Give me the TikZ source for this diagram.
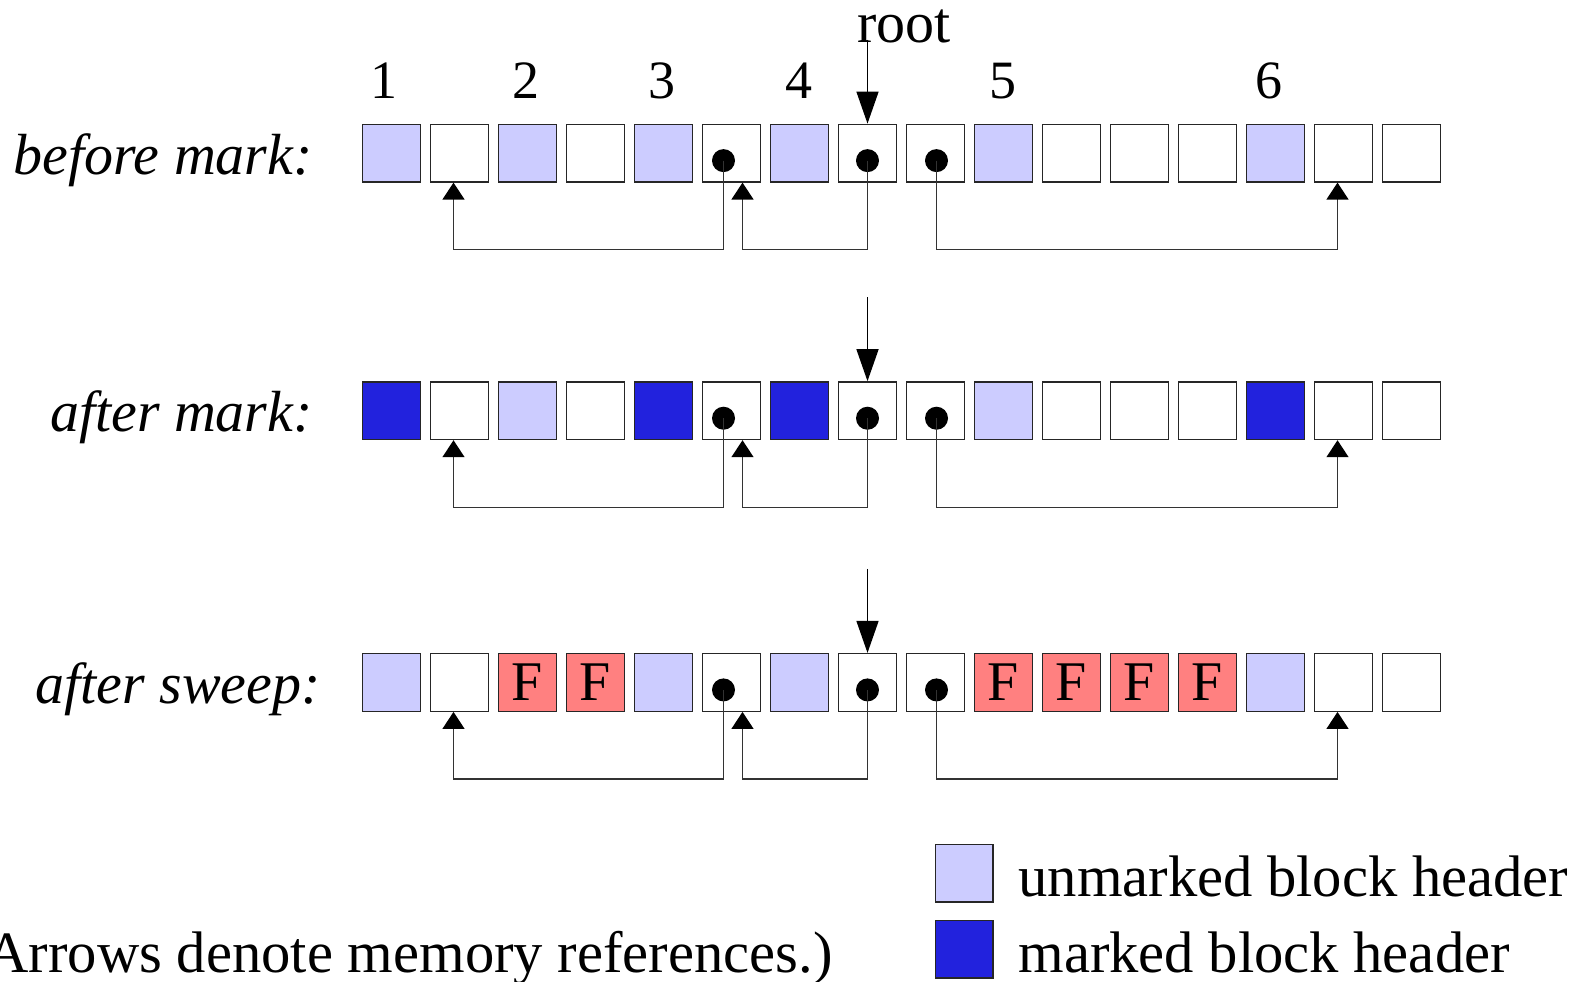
\documentclass[tikz,border=0pt]{standalone}
\usepackage{fontspec}
\setmainfont{Liberation Serif}
\usetikzlibrary{arrows.meta,calc}
\definecolor{unmarked}{HTML}{CCCCFF}
\definecolor{marked}{HTML}{2222DD}
\definecolor{freed}{HTML}{FF8080}
\begin{document}
\begin{tikzpicture}[x=0.5pt,y=-0.5pt,
  cell/.style={draw=black!85,line width=0.7pt,rectangle,inner sep=0pt,
    minimum size=28.8pt,font=\fontsize{28}{30}\selectfont},
  hdr/.style={cell,fill=unmarked},
  mhdr/.style={cell,fill=marked},
  fcell/.style={cell,fill=freed},
  ptr/.style={circle,fill=black,inner sep=0pt,minimum size=11.5pt},
  ref/.style={draw=black!80,line width=0.65pt,-{Triangle[width=11pt,length=8.5pt,color=black]}},
  rootref/.style={draw=black,line width=0.7pt,-{Triangle[width=11pt,length=16pt]}},
  rowlabel/.style={anchor=base east,inner sep=0pt,font=\fontsize{29}{33}\selectfont\itshape},
  number/.style={anchor=base,inner sep=0pt,font=\fontsize{27}{30}\selectfont},
  keytext/.style={anchor=base west,inner sep=0pt,font=\fontsize{29.3}{34}\selectfont},
]
\useasboundingbox (0,0) rectangle (1584,981);

% memory words, one row per phase
\foreach \s/\t [count=\i] in {hdr/,cell/,hdr/,cell/,hdr/,cell/,hdr/,cell/,cell/,hdr/,cell/,cell/,cell/,hdr/,cell/,cell/}
  \node[\s] (b1-\i) at ({391.5+68*(\i-1)},153.1) {\t};
\foreach \s/\t [count=\i] in {mhdr/,cell/,hdr/,cell/,mhdr/,cell/,mhdr/,cell/,cell/,hdr/,cell/,cell/,cell/,mhdr/,cell/,cell/}
  \node[\s] (b2-\i) at ({391.5+68*(\i-1)},410.7) {\t};
\foreach \s/\t [count=\i] in {hdr/,cell/,fcell/F,fcell/F,hdr/,cell/,hdr/,cell/,cell/,fcell/F,fcell/F,fcell/F,fcell/F,hdr/,cell/,cell/}
  \node[\s] (b3-\i) at ({391.5+68*(\i-1)},682.4) {\t};

% row labels
\node[rowlabel] (l1) at (313,174) {before mark:};
\node[rowlabel] (l2) at (313,431) {after mark:};
\node[rowlabel] (l3) at (321,703) {after sweep:};

% block numbers
\node[number] (n1) at (384,98) {1};
\node[number] (n2) at (526,98) {2};
\node[number] (n3) at (662,98) {3};
\node[number] (n4) at (799,98) {4};
\node[number] (n5) at (1003,98) {5};
\node[number] (n6) at (1269,98) {6};
\node[number,font=\fontsize{29}{32}\selectfont] (rootlbl) at (904,42.4) {root};

% pointers and references
\foreach \r in {1,2,3} {
  \node[ptr] (d\r-6) at ($(b\r-6.center)+(-8,7.5)$) {};
  \node[ptr] (d\r-8) at ($(b\r-8.center)+(0,7.5)$) {};
  \node[ptr] (d\r-9) at ($(b\r-9.center)+(1,7.5)$) {};
  \coordinate (h\r) at ($(b\r-1.south)+(0,67)$);
  \coordinate (t\r-2) at ($(b\r-2.south)+(-6,0)$);
  \coordinate (t\r-6) at ($(b\r-6.south)+(11,0)$);
  \coordinate (t\r-15) at ($(b\r-15.south)+(-6,0)$);
  \coordinate (root\r) at ($(b\r-8.north)+(0,-84)$);
  \draw[ref] (d\r-6.center) -- (d\r-6.center |- h\r) -| (t\r-2);
  \draw[ref] (d\r-8.center) -- (d\r-8.center |- h\r) -| (t\r-6);
  \draw[ref] (d\r-9.center) -- (d\r-9.center |- h\r) -| (t\r-15);
  \draw[rootref] (root\r) -- (b\r-8.north);
}

% key
\node[hdr] (key1) at (964.3,873.3) {};
\node[mhdr] (key2) at (964.3,949) {};
\node[keytext] (k1) at (1018,896) {unmarked block header};
\node[keytext] (k2) at (1018,972) {marked block header};
\node[keytext,anchor=base east] (note) at (833,972) {(Arrows denote memory references.)};
\end{tikzpicture}
\end{document}
